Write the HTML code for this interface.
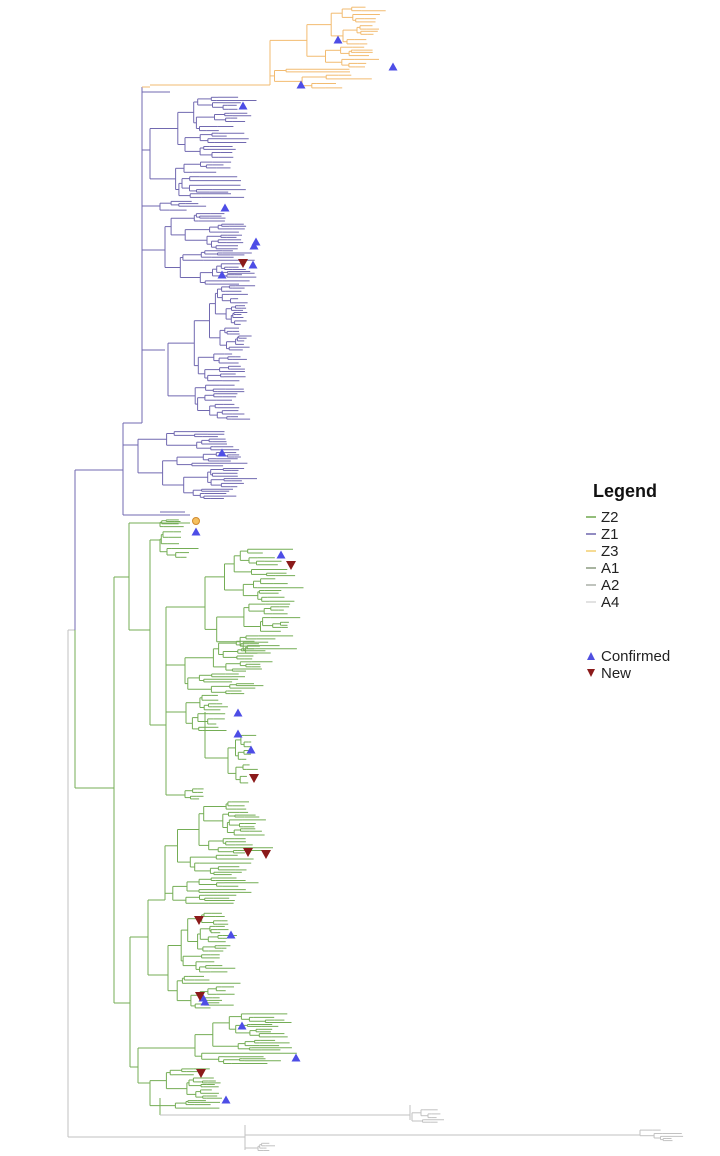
<!DOCTYPE html>
<html><head><meta charset="utf-8"><style>
html,body{margin:0;padding:0;background:#fff;}
svg{display:block;font-family:"Liberation Sans",Arial,sans-serif;}
</style></head><body>
<svg id="s" width="720" height="1156" xmlns="http://www.w3.org/2000/svg">
<g id="tree" fill="none" stroke-width="1"></g>
<g id="marks"></g>
<text x="593" y="497" font-size="18" font-weight="bold" fill="#111">Legend</text>
<g font-size="15" fill="#222">
<line x1="586" y1="517" x2="596" y2="517" stroke="#6fa84e" stroke-width="1.5"/><text x="601" y="522">Z2</text>
<line x1="586" y1="534" x2="596" y2="534" stroke="#6e66ad" stroke-width="1.5"/><text x="601" y="539">Z1</text>
<line x1="586" y1="551" x2="596" y2="551" stroke="#f2cf70" stroke-width="1.5"/><text x="601" y="556">Z3</text>
<line x1="586" y1="568" x2="596" y2="568" stroke="#8a9a80" stroke-width="1.5"/><text x="601" y="573">A1</text>
<line x1="586" y1="585" x2="596" y2="585" stroke="#aab0a8" stroke-width="1.5"/><text x="601" y="590">A2</text>
<line x1="586" y1="602" x2="596" y2="602" stroke="#d8d8d8" stroke-width="1.5"/><text x="601" y="607">A4</text>
<polygon points="587,660 595,660 591,652" fill="#5050e0"/><text x="601" y="661">Confirmed</text>
<polygon points="587,669 595,669 591,677" fill="#8b1a1a"/><text x="601" y="678">New</text>
</g>
</svg>
<script>
var seed=12345;function r(){seed=(seed*16807)%2147483647;return (seed-1)/2147483646;}
var out=[];
function L(x1,y1,x2,y2,c){out.push('<line x1="'+x1.toFixed(1)+'" y1="'+y1.toFixed(1)+'" x2="'+x2.toFixed(1)+'" y2="'+y2.toFixed(1)+'" stroke="'+c+'"/>');}
function clade(x,y0,y1,xmax,n,c,ay){
 if(n<=1||y1-y0<2){var m=(y0+y1)/2;L(x,m,x+(xmax-x)*(0.15+0.85*r()*r()+0.1),m,c);if(ay!=null)L(x,ay,x,m,c);return m;}
 var f=0.25+0.5*r();var k=y0+(y1-y0)*f;var n1=Math.max(1,Math.round(n*f));var n2=Math.max(1,n-n1);
 var w=xmax-x;var cx1=x+w*(0.03+0.3*r()),cx2=x+w*(0.03+0.3*r());
 var m1=clade(cx1,y0,k,xmax,n1,c),m2=clade(cx2,k,y1,xmax,n2,c);
 L(x,m1,cx1,m1,c);L(x,m2,cx2,m2,c);
 var a=Math.min(m1,m2),b=Math.max(m1,m2);if(ay!=null){a=Math.min(a,ay);b=Math.max(b,ay);}L(x,a,x,b,c);
 return (m1+m2)/2;}
var P='#7169b0',G='#74ad55',O='#f2bb70',Y='#c2c2c2';
L(68,630,68,1137,Y);L(68,1137,245,1137,Y);L(245,1125,245,1150,Y);L(245,1135,640,1135,Y);
clade(640,1128,1142,685,5,Y,1135);L(245,1148,258,1148,Y);clade(258,1142,1152,275,4,Y,1148);
L(68,630,75,630,Y);
L(75,470,75,630,P);L(75,630,75,788,G);L(75,470,123,470,P);
L(123,423,123,515,P);L(123,423,142,423,P);L(142,87,142,423,P);
L(123,445,138,445,P);clade(138,430,500,258,28,P,445);
L(142,87,150,87,O);L(150,85,270,85,O);clade(270,5,90,390,24,O,85);
L(142,92,170,92,P);
L(142,150,150,150,P);clade(150,95,200,255,30,P,150);
L(142,206,160,206,P);clade(160,200,212,228,4,P,206);
L(142,250,165,250,P);clade(165,212,285,262,28,P,250);
L(142,350,165,350,P);clade(168,285,420,255,45,P,350);
L(123,515,190,515,P);L(160,512,185,512,P);
L(75,788,114,788,G);
L(129,523,129,630,G);L(129,523,190,523,G);clade(160,519,528,195,4,G,523);
L(114,577,114,1003,G);L(114,577,129,577,G);
L(129,630,150,630,G);L(150,540,150,725,G);
L(150,540,160,540,G);clade(160,530,560,200,6,G,540);
L(150,725,166,725,G);L(166,607,166,795,G);
L(166,665,185,665,G);clade(185,640,695,275,22,G,665);
L(166,607,205,607,G);clade(205,548,655,300,30,G,607);
L(166,712,186,712,G);clade(186,692,732,235,10,G,712);
L(205,712,205,758,G);L(205,758,228,758,G);clade(228,732,785,258,10,G,758);
L(166,795,185,795,G);clade(185,788,800,210,4,G,795);
L(114,1003,130,1003,G);L(130,937,130,1067,G);L(130,937,148,937,G);L(148,900,148,975,G);
L(148,900,165,900,G);clade(165,800,905,272,35,G,900);
L(148,975,168,975,G);clade(168,912,1010,240,30,G,975);
L(130,1067,138,1067,G);L(138,1048,138,1083,G);
L(138,1048,195,1048,G);clade(195,1012,1065,300,20,G,1048);
L(138,1083,150,1083,G);clade(150,1068,1110,232,16,G,1083);
L(160,1098,160,1115,G);L(160,1115,410,1115,Y);L(410,1105,410,1120,Y);clade(412,1108,1124,448,5,Y,1115);
document.getElementById('tree').innerHTML=out.join('');
var m=[];
var blue=[[338,40],[393,67],[301,85],[243,106],[225,208],[256,242],[254,246],[253,265],[222,275],[222,453],[196,532],[281,555],[238,713],[238,734],[251,750],[231,935],[203,998],[205,1002],[242,1026],[296,1058],[226,1100]];
var red=[[243,263],[291,565],[254,778],[248,852],[266,854],[199,920],[200,996],[201,1073]];
blue.forEach(function(p){m.push('<polygon points="'+(p[0]-4.5)+','+(p[1]+3.5)+' '+(p[0]+4.5)+','+(p[1]+3.5)+' '+p[0]+','+(p[1]-4.5)+'" fill="#4d4de6"/>');});
red.forEach(function(p){m.push('<polygon points="'+(p[0]-5)+','+(p[1]-4)+' '+(p[0]+5)+','+(p[1]-4)+' '+p[0]+','+(p[1]+5)+'" fill="#8b1a1a"/>');});
m.push('<circle cx="196" cy="521" r="3.5" fill="#f5c060" stroke="#d08a30"/>');
document.getElementById('marks').innerHTML=m.join('');
</script>
</body></html>
